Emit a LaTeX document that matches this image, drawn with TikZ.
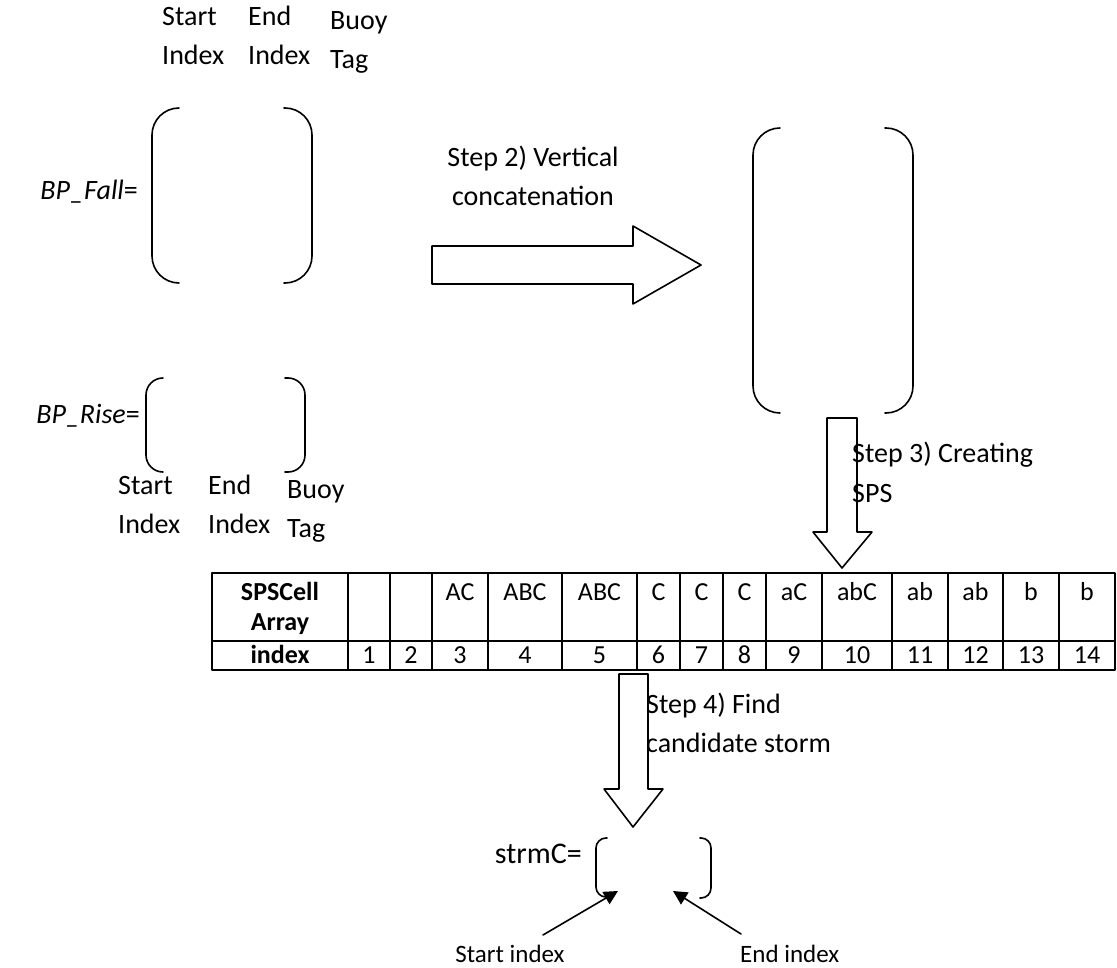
\documentclass[tikz,border=0pt]{standalone}
\usepackage{fontspec}
\setmainfont{Carlito}
\usetikzlibrary{arrows.meta}
\begin{document}
\begin{tikzpicture}[x=1pt, y=-1pt, line join=round, line cap=round, >={Triangle[length=14pt,width=14pt]}]
\tikzset{every node/.style={inner sep=0pt, font=\fontsize{28}{39}\selectfont},
  lbl/.style={anchor=base west},
  tbl/.style={anchor=base, font=\fontsize{26}{30}\selectfont},
  brk/.style={line width=1.6pt},
  blk/.style={draw, line width=1.6pt, fill=white}}
\def\xmin{212}\def\xmax{1115}\def\ymin{573}\def\ymid{641}\def\ymax{670}
\useasboundingbox (0,0) rectangle (1117,968);
% column labels
\node[lbl] (fs1) at (162,26) {Start};
\node[lbl] (fs2) at (162,65) {Index};
\node[lbl] (fe1) at (248,26) {End};
\node[lbl] (fe2) at (248,65) {Index};
\node[lbl] (fb1) at (330,30) {Buoy};
\node[lbl] (fb2) at (330,69) {Tag};
\node[lbl] (rs1) at (118,494) {Start};
\node[lbl] (rs2) at (118,533) {Index};
\node[lbl] (re1) at (208,494) {End};
\node[lbl] (re2) at (208,533) {Index};
\node[lbl] (rb1) at (287,498) {Buoy};
\node[lbl] (rb2) at (287,537) {Tag};
% matrices
\node[anchor=base east] (fall) at (138,200) {\textit{BP\_Fall}=};
\draw[brk, rounded corners=27pt] (179,108) -- (152,108) -- (152,283) -- (179,283);
\draw[brk, rounded corners=27pt] (284,108) -- (312,108) -- (312,283) -- (284,283);
\node[anchor=base east] (rise) at (140,424) {\textit{BP\_Rise}=};
\draw[brk, rounded corners=17pt] (163,378) -- (146,378) -- (146,472) -- (163,472);
\draw[brk, rounded corners=17pt] (285,378) -- (305,378) -- (305,472) -- (285,472);
\draw[brk, rounded corners=27pt] (780,128) -- (753,128) -- (753,413) -- (780,413);
\draw[brk, rounded corners=27pt] (885,128) -- (913,128) -- (913,413) -- (885,413);
% step 2
\draw[blk] (432,246) -- (633,246) -- (633,226) -- (701,265) -- (633,304) -- (633,284) -- (432,284) -- cycle;
\node[anchor=base] (st2a) at (533,167) {Step 2) Vertical};
\node[anchor=base] (st2b) at (533,206) {concatenation};
% step 3
\draw[blk] (827,418) -- (857,418) -- (857,532) -- (872,532) -- (842,568) -- (813,532) -- (827,532) -- cycle;
\node[lbl] (st3a) at (852,462) {Step 3) Creating};
\node[lbl] (st3b) at (852,502) {SPS};
% table
\draw[line width=1.6pt] (\xmin,\ymin) rectangle (\xmax,\ymax);
\draw[line width=1.6pt] (\xmin,\ymid) -- (\xmax,\ymid);
\node[tbl, font={\fontsize{26}{30}\selectfont\bfseries}] (hd1) at (280,600) {SPSCell};
\node[tbl, font={\fontsize{26}{30}\selectfont\bfseries}] (hd2) at (280,630) {Array};
\node[tbl, font={\fontsize{26}{30}\selectfont\bfseries}] (hd3) at (280,663) {index};
\foreach \a/\b/\s/\n [count=\i] in {348/390//1, 390/432//2, 432/488/AC/3, 488/562/ABC/4,
    562/637/ABC/5, 637/680/C/6, 680/723/C/7, 723/766/C/8, 766/822/aC/9, 822/892/abC/10,
    892/948/ab/11, 948/1003/ab/12, 1003/1059/b/13, 1059/1115/b/14}{
  \draw[line width=1.6pt] (\a,\ymin) -- (\a,\ymax);
  \node[tbl] (s\i) at ({(\a+\b)/2},600) {\s};
  \node[tbl] (n\i) at ({(\a+\b)/2},663) {\n};
}
% step 4
\draw[blk] (619,674) -- (648,674) -- (648,789) -- (663,789) -- (633,827) -- (604,789) -- (619,789) -- cycle;
\node[lbl] (st4a) at (646,713) {Step 4) Find};
\node[lbl] (st4b) at (646,752) {candidate storm};
% candidate storm
\node[anchor=base east, font=\fontsize{30}{39}\selectfont] (strm) at (582,863) {strmC=};
\draw[brk, rounded corners=10pt] (607,838) -- (596,838) -- (596,897) -- (607,897);
\draw[brk, rounded corners=10pt] (700,838) -- (711,838) -- (711,898) -- (700,898);
\node[anchor=base, font=\fontsize{25}{30}\selectfont] (sidx) at (510,962) {Start index};
\node[anchor=base west, font=\fontsize{25}{30}\selectfont] (eidx) at (740,962) {End index};
\coordinate (sTail) at (543,935);
\coordinate (sTip) at (618,891);
\coordinate (eTail) at (741,934);
\coordinate (eTip) at (673,891);
\draw[->, line width=1.6pt] (sTail) -- (sTip);
\draw[->, line width=1.6pt] (eTail) -- (eTip);
\end{tikzpicture}
\end{document}
